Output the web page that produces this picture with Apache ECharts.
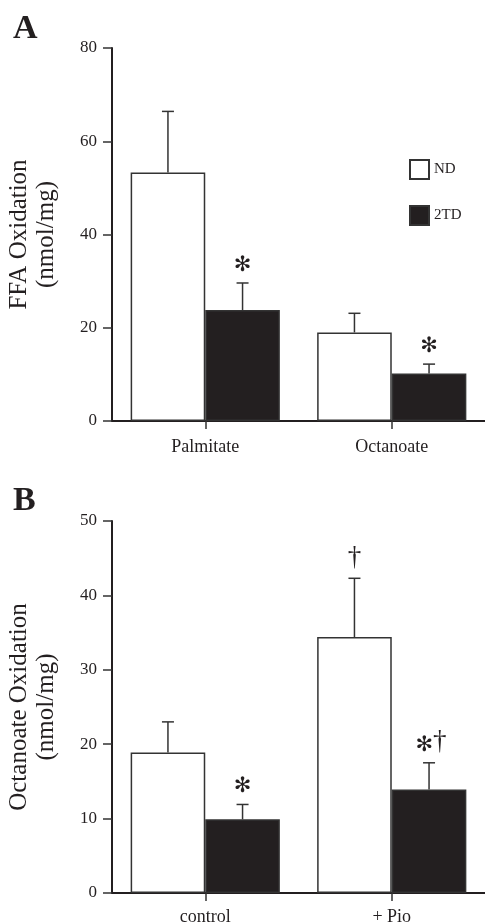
<!DOCTYPE html>
<html><head><meta charset="utf-8">
<script src="https://cdn.jsdelivr.net/npm/echarts@6/dist/echarts.min.js"></script>
<style>html,body{margin:0;padding:0;background:#fff;overflow:hidden}#c{width:485px;height:924px}</style>
</head><body><div id="c"></div>
<script>
// Panel A data
const catsA = ['Palmitate', 'Octanoate'];
const ndA = [53.3, 19.0];
const ndA_err = [66.4, 23.1];
const tdA = [23.8, 10.2];
const tdA_err = [29.6, 12.2];
const sigA_nd = ['', ''];
const sigA_td = ['✻', '✻'];
const yTicksA = [0, 20, 40, 60, 80];
// Panel B data
const catsB = ['control', '+ Pio'];
const ndB = [18.9, 34.4];
const ndB_err = [23.0, 42.3];
const tdB = [9.9, 13.9];
const tdB_err = [11.9, 17.5];
const sigB_nd = ['', '†'];
const sigB_td = ['✻', '✻†'];
const yTicksB = [0, 10, 20, 30, 40, 50];

const INK = '#231f20';
const SERIF = '"Liberation Serif", "DejaVu Serif", serif';

function richSig(s) {
  let out = '';
  for (const ch of s) {
    if (ch === '✻') out += '{a|✻}';
    else if (ch === '†') out += '{b|†}';
  }
  return out;
}

function errSeries(xi, tops, means, sigs, side) {
  return {
    type: 'custom', xAxisIndex: xi, yAxisIndex: xi, z: 5, silent: true,
    data: tops.map((t, i) => [i, t, means[i]]),
    renderItem: function (params, api) {
      const i = api.value(0), top = api.value(1), mean = api.value(2);
      const band = api.size([1, 0])[0];
      const pTop = api.coord([i, top]);
      const pBase = api.coord([i, mean]);
      const x = pTop[0] + side * band * 0.2;
      const children = [
        { type: 'line', shape: { x1: x, y1: pBase[1], x2: x, y2: pTop[1] }, style: { stroke: '#333', lineWidth: 1.5 } },
        { type: 'line', shape: { x1: x - 6, y1: pTop[1], x2: x + 6, y2: pTop[1] }, style: { stroke: '#333', lineWidth: 1.5 } }
      ];
      const s = sigs[i];
      if (s) {
        children.push({
          type: 'text', x: x + (s.length > 1 ? 2 : 0), y: pTop[1] - 7,
          style: {
            text: richSig(s), align: 'center', verticalAlign: 'bottom',
            rich: {
              a: { fontFamily: '"DejaVu Sans", sans-serif', fontSize: 21, fill: INK, fontWeight: 'bold', verticalAlign: 'bottom' },
              b: { fontFamily: SERIF, fontSize: 27, fill: INK, verticalAlign: 'bottom' }
            }
          }
        });
      }
      return { type: 'group', children: children };
    }
  };
}

function yAxis(gi, max, interval, name) {
  return {
    type: 'value', gridIndex: gi, min: 0, max: max, interval: interval,
    name: name, nameLocation: 'middle', nameRotate: 90, nameGap: 52,
    nameTextStyle: { fontFamily: SERIF, fontSize: 25, color: INK, lineHeight: 27 },
    axisLine: { show: true, lineStyle: { color: INK, width: 2 } },
    axisTick: { show: true, length: 9, lineStyle: { color: '#333', width: 1.5 } },
    axisLabel: { fontFamily: SERIF, fontSize: 17, color: INK, margin: 15 },
    splitLine: { show: false }
  };
}

function xAxis(gi, cats, margin) {
  return {
    type: 'category', gridIndex: gi, data: cats, boundaryGap: true,
    axisLine: { show: true, lineStyle: { color: INK, width: 2 } },
    axisTick: { show: true, alignWithLabel: true, length: 8, lineStyle: { color: '#333', width: 1.5 } },
    axisLabel: { fontFamily: SERIF, fontSize: 18, color: INK, margin: margin }
  };
}

function barSeries(name, xi, data, fill) {
  return {
    name: name, type: 'bar', xAxisIndex: xi, yAxisIndex: xi, data: data,
    barWidth: '40%', barGap: '0%',
    itemStyle: { color: fill, borderColor: '#333', borderWidth: 1.5 },
    emphasis: { disabled: true }
  };
}

const chart = echarts.init(document.getElementById('c'), null, { renderer: 'canvas' });
chart.setOption({
  animation: false,
  backgroundColor: '#fff',
  title: [
    { text: 'A', left: 8, top: 7, textStyle: { fontFamily: SERIF, fontSize: 34, fontWeight: 'bold', color: INK } },
    { text: 'B', left: 8, top: 479, textStyle: { fontFamily: SERIF, fontSize: 34, fontWeight: 'bold', color: INK } }
  ],
  legend: {
    orient: 'vertical', left: 404, top: 154, itemWidth: 19, itemHeight: 19, itemGap: 25,
    icon: 'rect',
    data: ['ND', '2TD'], selectedMode: false,
    textStyle: { fontFamily: SERIF, fontSize: 15, color: INK, padding: [0, 0, 0, 0] }
  },
  grid: [
    { left: 112, top: 48, width: 373, height: 373, outerBoundsMode: 'none', containLabel: false },
    { left: 112, top: 521, width: 373, height: 372, outerBoundsMode: 'none', containLabel: false }
  ],
  xAxis: [xAxis(0, catsA, 17), xAxis(1, catsB, 15)],
  yAxis: [yAxis(0, 80, 20, 'FFA Oxidation\n(nmol/mg)'), yAxis(1, 50, 10, 'Octanoate Oxidation\n(nmol/mg)')],
  series: [
    barSeries('ND', 0, ndA, '#ffffff'),
    barSeries('2TD', 0, tdA, INK),
    barSeries('ND', 1, ndB, '#ffffff'),
    barSeries('2TD', 1, tdB, INK),
    errSeries(0, ndA_err, ndA, sigA_nd, -1),
    errSeries(0, tdA_err, tdA, sigA_td, 1),
    errSeries(1, ndB_err, ndB, sigB_nd, -1),
    errSeries(1, tdB_err, tdB, sigB_td, 1)
  ]
});
</script></body></html>
